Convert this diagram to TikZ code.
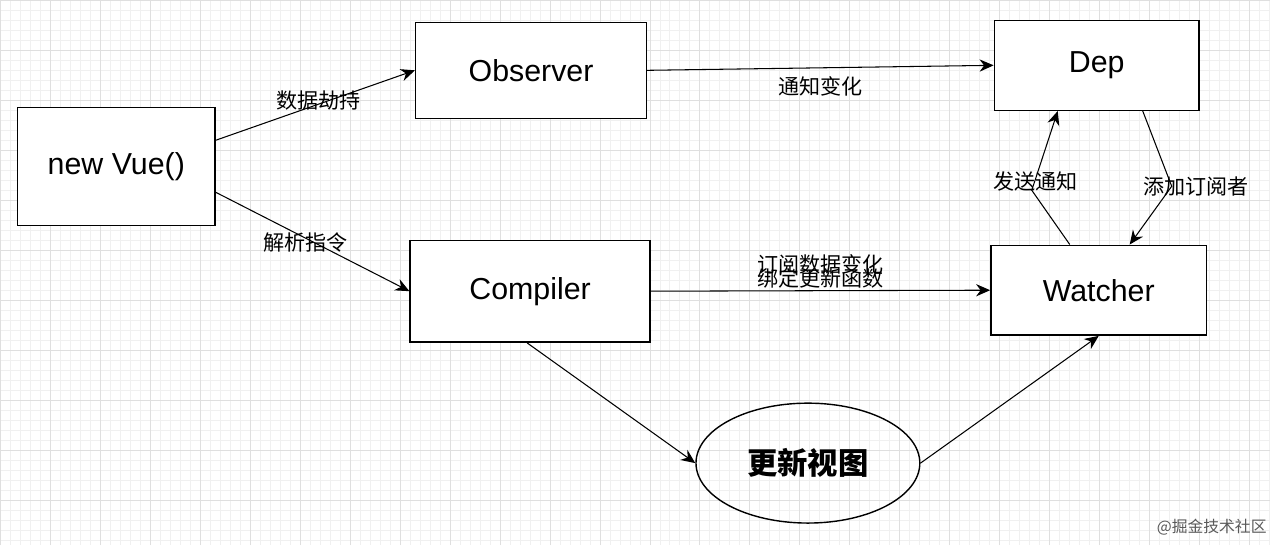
\documentclass[tikz,border=0pt]{standalone}
\usepackage{fontspec}
\setmainfont{Liberation Sans}
\newfontfamily\cjk{Noto Sans CJK SC}
\usetikzlibrary{shapes.geometric, arrows.meta, positioning}

\begin{document}
\begin{tikzpicture}[x=0.02cm, y=-0.02cm,
  box/.style={draw, thick, minimum width=4.5cm, minimum height=1.9cm, font=\LARGE, fill=white},
  lbl/.style={font=\cjk\large},
  arr/.style={-{Stealth[length=8pt, width=7pt]}, line width=0.6pt}]
  % background grid
  \fill[white] (0,0) rectangle (1270,545);
  \draw[gray!12, step=0.2cm] (0,0) grid (1270,545);
  \draw[gray!25, step=1cm] (0,0) grid (1270,545);
  \useasboundingbox (0,0) rectangle (1270,545);

  %%%%%%%%%%%%%%%%%%
  \node (vue) at (116,166) [box, minimum width=3.95cm, minimum height=2.36cm] {new Vue()};
  \node (observer) at (531,70) [box, minimum width=4.62cm, minimum height=1.92cm] {Observer};
  \node (dep) at (1097,65) [box, minimum width=4.1cm, minimum height=1.8cm] {Dep};
  \node (compiler) at (530,291) [box, minimum width=4.8cm, minimum height=2.04cm] {Compiler};
  \node (watcher) at (1099,290) [box, minimum width=4.32cm, minimum height=1.8cm] {Watcher};
  \node (view) at (808,463) [draw, thick, ellipse, minimum width=4.48cm, minimum height=2.4cm, font=\cjk\LARGE\bfseries] {更新视图};

  %%%%%%%%%%%%%%%%%%
  \coordinate (sendbend) at (1032,190);
  \coordinate (addbend) at (1172,186);

  %%%%%%%%%%%%%%%%%%
  \draw [arr] (vue.east |- 0,140) -- (observer.west);
  \node[lbl] at (318,100) {数据劫持};
  \draw [arr] (vue.east |- 0,192) -- (compiler.west);
  \node[lbl] at (305,242) {解析指令};
  \draw [arr] (observer.east) -- node[lbl, below, yshift=-0.05cm]{通知变化} (dep.west);
  \draw [arr] (compiler.east) -- node[lbl, above, align=center, inner sep=1pt]{订阅数据变化\\[-6pt]绑定更新函数} (watcher.west);
  \draw [arr] (watcher.north -| 1070,0) -- (sendbend) -- (dep.south -| 1058,0);
  \node[lbl] at (1036,181) {发送通知};
  \draw [arr] (dep.south -| 1143,0) -- (addbend) -- (watcher.north -| 1130,0);
  \node[lbl] at (1196,186) {添加订阅者};
  \draw [arr] (compiler.south -| 527,0) -- (view.west);
  \draw [arr] (view.east) -- (watcher.south);

  \node (mark) at (1212,527) [font=\cjk\small, text=gray!70!black] {@掘金技术社区};
\end{tikzpicture}
\end{document}
